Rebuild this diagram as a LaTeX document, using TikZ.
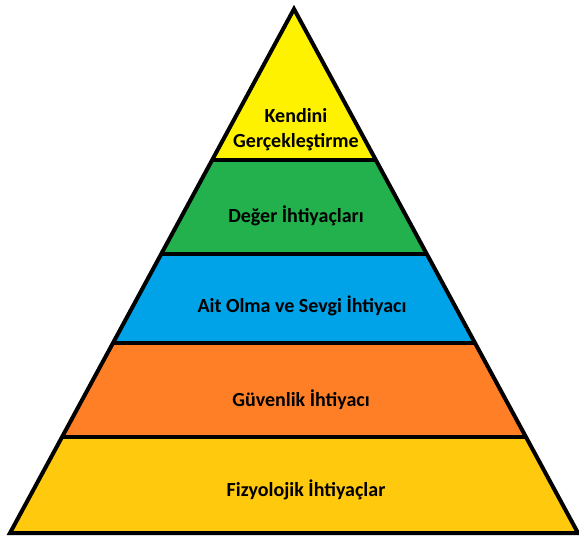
\documentclass[tikz,border=0pt]{standalone}
\usepackage{fontspec}
\setmainfont{Carlito}
\definecolor{sari1}{RGB}{255, 242, 0}
\definecolor{yesil1}{RGB}{34, 177, 76}
\definecolor{mavi1}{RGB}{0, 162, 232}
\definecolor{turuncu1}{RGB}{255, 127, 39}
\definecolor{altin1}{RGB}{255, 201, 14}
\usetikzlibrary{calc}

\begin{document}
\begin{tikzpicture}[x=1pt, y=-1pt,
    katman/.style={font=\bfseries\fontsize{20}{25}\selectfont, align=center, inner sep=0pt},
    sinir/.style={line width=4pt}]
  \useasboundingbox (0,0) rectangle (579,539);
  \coordinate (tepe) at (294,9);
  \coordinate (sol) at (10,533);
  \coordinate (sag) at (578,533);
  % katman sinirlari
  \foreach \t/\ad in {0.2874/A, 0.4668/B, 0.6374/C, 0.8168/D}{
    \coordinate (sol\ad) at ($(tepe)!\t!(sol)$);
    \coordinate (sag\ad) at ($(tepe)!\t!(sag)$);
  }
  \fill[sari1] (tepe) -- (sagA) -- (solA) -- cycle;
  \fill[yesil1] (solA) -- (sagA) -- (sagB) -- (solB) -- cycle;
  \fill[mavi1] (solB) -- (sagB) -- (sagC) -- (solC) -- cycle;
  \fill[turuncu1] (solC) -- (sagC) -- (sagD) -- (solD) -- cycle;
  \fill[altin1] (solD) -- (sagD) -- (sag) -- (sol) -- cycle;
  \foreach \ad in {A, B, C, D}
    \draw[sinir] (sol\ad) -- (sag\ad);
  \draw[sinir, line join=miter] (tepe) -- (sag) -- (sol) -- cycle;
  % etiketler
  \node[katman] (kendini) at (296,130) {Kendini\\Gerçekleştirme};
  \node[katman] (deger) at (296,216) {Değer İhtiyaçları};
  \node[katman] (ait) at (302,306) {Ait Olma ve Sevgi İhtiyacı};
  \node[katman] (guvenlik) at (301,400) {Güvenlik İhtiyacı};
  \node[katman] (fizyolojik) at (306,490) {Fizyolojik İhtiyaçlar};
\end{tikzpicture}
\end{document}
